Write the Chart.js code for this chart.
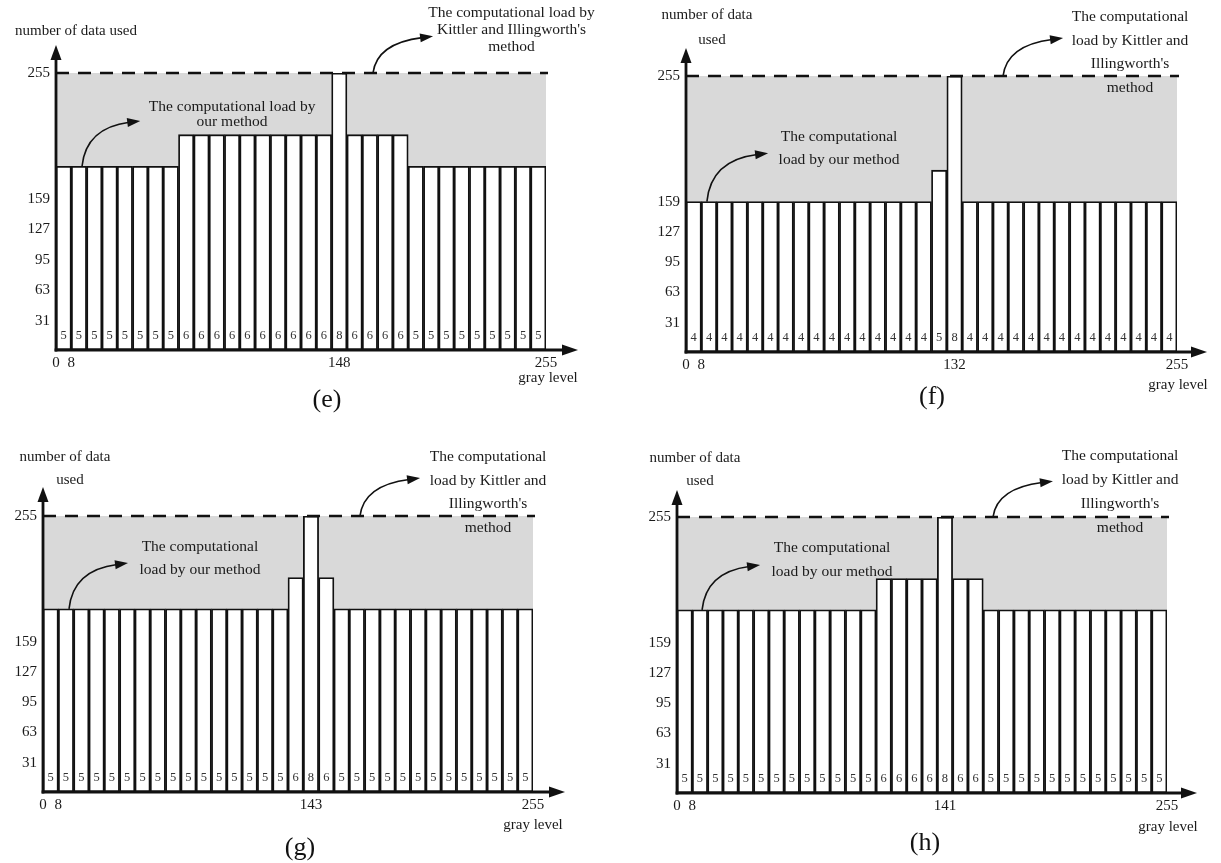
<!DOCTYPE html>
<html><head><meta charset="utf-8">
<script src="https://cdn.jsdelivr.net/npm/chart.js@4.4.1/dist/chart.umd.min.js"></script>
<style>
html,body{margin:0;padding:0;background:#fff;}
#wrap{position:relative;width:1221px;height:863px;overflow:hidden;}
#wrap canvas{position:absolute;left:0;top:0;}
</style></head><body>
<div id="wrap">
<canvas id="ce" width="1221" height="863"></canvas>
<canvas id="cf" width="1221" height="863"></canvas>
<canvas id="cg" width="1221" height="863"></canvas>
<canvas id="ch" width="1221" height="863"></canvas>
</div>
<script>
// ---------------- DATA ----------------
// gray-level bins (start of each 8-level bin), shared by all panels
const binStart = [0,8,16,24,32,40,48,56,64,72,80,88,96,104,112,120,128,136,144,152,160,168,176,184,192,200,208,216,224,232,240,248];
const binWidth = 8;
const grayMax = 256;

const yTickValues = [31, 63, 95, 127, 159, 255];
const kittlerLoad = 255;

// (e)
const countsE = [5,5,5,5,5,5,5,5, 6,6,6,6,6,6,6,6,6,6, 8, 6,6,6,6, 5,5,5,5,5,5,5,5,5];
const loadE   = [184,184,184,184,184,184,184,184, 208,208,208,208,208,208,208,208,208,208, 255, 208,208,208,208, 184,184,184,184,184,184,184,184,184];
const xTickValuesE = [0, 8, 148, 256];
const xTickLabelsE = ['0', '8', '148', '255'];

// (f)
const countsF = [4,4,4,4,4,4,4,4,4,4,4,4,4,4,4,4, 5, 8, 4,4,4,4,4,4,4,4,4,4,4,4,4,4];
const loadF   = [159,159,159,159,159,159,159,159,159,159,159,159,159,159,159,159, 183, 255, 159,159,159,159,159,159,159,159,159,159,159,159,159,159];
const xTickValuesF = [0, 8, 140, 256];
const xTickLabelsF = ['0', '8', '132', '255'];

// (g)
const countsG = [5,5,5,5,5,5,5,5,5,5,5,5,5,5,5,5, 6, 8, 6, 5,5,5,5,5,5,5,5,5,5,5,5,5];
const loadG   = [184,184,184,184,184,184,184,184,184,184,184,184,184,184,184,184, 208, 255, 208, 184,184,184,184,184,184,184,184,184,184,184,184,184];
const xTickValuesG = [0, 8, 140, 256];
const xTickLabelsG = ['0', '8', '143', '255'];

// (h)
const countsH = [5,5,5,5,5,5,5,5,5,5,5,5,5, 6,6,6,6, 8, 6,6, 5,5,5,5,5,5,5,5,5,5,5,5];
const loadH   = [184,184,184,184,184,184,184,184,184,184,184,184,184, 208,208,208,208, 255, 208,208, 184,184,184,184,184,184,184,184,184,184,184,184];
const xTickValuesH = [0, 8, 140, 256];
const xTickLabelsH = ['0', '8', '141', '255'];

// ---------------- PIECEWISE Y SCALE (schematic axis: 0..159 compressed, 159..255 expanded) ----------------
const BREAK_VALUE = 159, BREAK_FRAC = 0.545;
class PiecewiseScale extends Chart.LinearScale {
  getPixelForValue(value) {
    const v = +value;
    let f;
    if (v <= BREAK_VALUE) f = (v - this.min) / (BREAK_VALUE - this.min) * BREAK_FRAC;
    else f = BREAK_FRAC + (v - BREAK_VALUE) / (this.max - BREAK_VALUE) * (1 - BREAK_FRAC);
    return this.getPixelForDecimal(f);
  }
  getValueForPixel(pixel) {
    const f = this.getDecimalForPixel(pixel);
    if (f <= BREAK_FRAC) return this.min + f / BREAK_FRAC * (BREAK_VALUE - this.min);
    return BREAK_VALUE + (f - BREAK_FRAC) / (1 - BREAK_FRAC) * (this.max - BREAK_VALUE);
  }
}
PiecewiseScale.id = 'piecewise';
PiecewiseScale.defaults = Chart.LinearScale.defaults;
Chart.register(PiecewiseScale);

// ---------------- LAYOUT / ANNOTATIONS ----------------
const SERIF = '"Liberation Serif", "Times New Roman", serif';
const PAGE_W = 1221, PAGE_H = 863;

const panels = [
  { id:'ce', letter:'(e)', counts:countsE, load:loadE, xtv:xTickValuesE, xtl:xTickLabelsE,
    L:56, R:546, base:350, top:73, arrowTop:45, arrowRight:578,
    yTitle:[['number of data used', 20, -42]],
    grayLevel:[2, 28], letterPos:[271, 50],
    leftText:{lines:['The computational load by','our method'], x:92, y:229, lh:15},
    leftArrow:{x0:13.6, y0:184, x1:44, y1:218.5},
    rightText:{lines:['The computational load by','Kittler and Illingworth\'s','method'], x:238, y:300.8, lh:17},
    rightArrow:{x0:165.6, y0:255, x1:197, y1:283} },
  { id:'cf', letter:'(f)', counts:countsF, load:loadF, xtv:xTickValuesF, xtl:xTickLabelsF,
    L:686, R:1177, base:352, top:76, arrowTop:48, arrowRight:1207,
    yTitle:[['number of data', 21, -61], ['used', 26, -36]],
    grayLevel:[1, 33], letterPos:[246, 45],
    leftText:{lines:['The computational','load by our method'], x:79.8, y:208.4, lh:23},
    leftArrow:{x0:10.9, y0:159, x1:42.8, y1:196},
    rightText:{lines:['The computational','load by Kittler and','Illingworth\'s','method'], x:231.5, y:300.1, lh:23.7},
    rightArrow:{x0:165.3, y0:255, x1:196.6, y1:284} },
  { id:'cg', letter:'(g)', counts:countsG, load:loadG, xtv:xTickValuesG, xtl:xTickLabelsG,
    L:43, R:533, base:792, top:516, arrowTop:487, arrowRight:565,
    yTitle:[['number of data', 22, -59], ['used', 27, -36]],
    grayLevel:[0, 33], letterPos:[257, 56],
    leftText:{lines:['The computational','load by our method'], x:82, y:231.4, lh:23},
    leftArrow:{x0:13.6, y0:184, x1:44.4, y1:219},
    rightText:{lines:['The computational','load by Kittler and','Illingworth\'s','method'], x:232.5, y:300, lh:23.5},
    rightArrow:{x0:165.6, y0:255, x1:197, y1:284} },
  { id:'ch', letter:'(h)', counts:countsH, load:loadH, xtv:xTickValuesH, xtl:xTickLabelsH,
    L:677, R:1167, base:793, top:517, arrowTop:490, arrowRight:1197,
    yTitle:[['number of data', 18, -59], ['used', 23, -36]],
    grayLevel:[1, 34], letterPos:[248, 50],
    leftText:{lines:['The computational','load by our method'], x:81, y:231.4, lh:24},
    leftArrow:{x0:13.1, y0:184, x1:43.4, y1:218.3},
    rightText:{lines:['The computational','load by Kittler and','Illingworth\'s','method'], x:231.5, y:301.6, lh:24},
    rightArrow:{x0:165.1, y0:255, x1:196.4, y1:282.4} }
];

function arrowHead(ctx, x, y, dx, dy, len, hw) {
  const m = Math.hypot(dx, dy) || 1;
  const ux = dx / m, uy = dy / m;
  ctx.beginPath();
  ctx.moveTo(x, y);
  ctx.lineTo(x - ux*len - uy*hw, y - uy*len + ux*hw);
  ctx.lineTo(x - ux*len + uy*hw, y - uy*len - ux*hw);
  ctx.closePath();
  ctx.fill();
}

function curvedArrow(ctx, xs, ys, a) {
  const sx = xs.getPixelForValue(a.x0), sy = ys.getPixelForValue(a.y0);
  const ex = xs.getPixelForValue(a.x1), ey = ys.getPixelForValue(a.y1);
  const cx = sx + 4, cy = ey + 7;
  const dx = ex - cx, dy = ey - cy;
  const m = Math.hypot(dx, dy);
  const bx = ex - dx/m*11, by = ey - dy/m*11;
  ctx.save();
  ctx.strokeStyle = '#111'; ctx.fillStyle = '#111'; ctx.lineWidth = 1.6;
  ctx.beginPath();
  ctx.moveTo(sx, sy);
  ctx.quadraticCurveTo(cx, cy, bx, by);
  ctx.stroke();
  arrowHead(ctx, ex, ey, dx, dy, 13, 4.5);
  ctx.restore();
}

function textBlock(ctx, xs, ys, t) {
  const x = xs.getPixelForValue(t.x), y = ys.getPixelForValue(t.y);
  ctx.save();
  ctx.fillStyle = '#1a1a1a';
  ctx.font = '15.5px ' + SERIF;
  ctx.textAlign = 'center'; ctx.textBaseline = 'middle';
  t.lines.forEach((ln, i) => ctx.fillText(ln, x, y + i*t.lh));
  ctx.restore();
}

const decoPlugin = {
  id: 'deco',
  beforeDatasetsDraw(chart) {
    const xs = chart.scales.x, ys = chart.scales.y, ctx = chart.ctx;
    const x0 = xs.getPixelForValue(0), x1 = xs.getPixelForValue(grayMax);
    const yTop = ys.getPixelForValue(kittlerLoad), yB = ys.getPixelForValue(0);
    ctx.save();
    ctx.fillStyle = '#d9d9d9';
    ctx.fillRect(x0, yTop, x1 - x0, yB - yTop);
    ctx.restore();
  },
  afterDatasetsDraw(chart) {
    const p = chart.config.options.plugins.deco.panel;
    const xs = chart.scales.x, ys = chart.scales.y, ctx = chart.ctx;
    const L = xs.getPixelForValue(0), R = xs.getPixelForValue(grayMax);
    const B = ys.getPixelForValue(0), T = ys.getPixelForValue(kittlerLoad);
    // bar value labels
    const meta = chart.getDatasetMeta(0);
    ctx.save();
    ctx.fillStyle = '#333';
    ctx.font = '12.5px ' + SERIF;
    ctx.textAlign = 'center'; ctx.textBaseline = 'middle';
    meta.data.forEach((bar, i) => ctx.fillText(String(p.counts[i]), bar.x, B - 14));
    ctx.restore();
    // dashed Kittler line
    ctx.save();
    ctx.strokeStyle = '#111'; ctx.lineWidth = 2.6;
    ctx.setLineDash([13, 9]);
    ctx.beginPath(); ctx.moveTo(L, T); ctx.lineTo(R + 2, T); ctx.stroke();
    ctx.restore();
    // axes with arrows
    ctx.save();
    ctx.strokeStyle = '#111'; ctx.fillStyle = '#111'; ctx.lineWidth = 2.8; ctx.lineCap = 'butt';
    ctx.beginPath(); ctx.moveTo(L, B + 1.4); ctx.lineTo(L, p.arrowTop + 12); ctx.stroke();
    arrowHead(ctx, L, p.arrowTop, 0, -1, 15, 5.5);
    ctx.beginPath(); ctx.moveTo(L - 1.4, B); ctx.lineTo(p.arrowRight - 12, B); ctx.stroke();
    arrowHead(ctx, p.arrowRight, B, 1, 0, 16, 5.5);
    ctx.restore();
    // annotations
    textBlock(ctx, xs, ys, p.leftText);
    textBlock(ctx, xs, ys, p.rightText);
    curvedArrow(ctx, xs, ys, p.leftArrow);
    curvedArrow(ctx, xs, ys, p.rightArrow);
    // axis titles
    ctx.save();
    ctx.fillStyle = '#1a1a1a';
    ctx.font = '15px ' + SERIF;
    ctx.textAlign = 'center'; ctx.textBaseline = 'middle';
    p.yTitle.forEach(t => ctx.fillText(t[0], L + t[1], T + t[2]));
    ctx.fillText('gray level', R + p.grayLevel[0], B + p.grayLevel[1]);
    ctx.font = '26px ' + SERIF;
    ctx.fillStyle = '#111';
    ctx.fillText(p.letter, L + p.letterPos[0], B + p.letterPos[1]);
    ctx.restore();
  }
};

panels.forEach(p => {
  const ctx = document.getElementById(p.id).getContext('2d');
  new Chart(ctx, {
    type: 'bar',
    data: {
      datasets: [{
        data: p.load.map((v, i) => ({ x: binStart[i] + binWidth / 2, y: v })),
        backgroundColor: '#ffffff',
        borderColor: '#111111',
        borderWidth: 1.8,
        borderSkipped: false,
        barPercentage: 1,
        categoryPercentage: 1
      }]
    },
    options: {
      responsive: false,
      animation: false,
      events: [],
      layout: { padding: { left: p.L - 40, top: p.top, right: PAGE_W - p.R, bottom: PAGE_H - p.base - 30 } },
      scales: {
        x: {
          type: 'linear', min: 0, max: grayMax, offset: false,
          grid: { display: false, drawTicks: false }, border: { display: false },
          afterBuildTicks: s => { s.ticks = p.xtv.map(v => ({ value: v })); },
          afterFit: s => { s.height = 30; },
          ticks: { autoSkip: false, maxRotation: 0, minRotation: 0, padding: 4, color: '#1a1a1a',
                   font: { family: SERIF, size: 15 },
                   callback: (v, i) => p.xtl[i] }
        },
        y: {
          type: 'piecewise', min: 0, max: kittlerLoad,
          grid: { display: false, drawTicks: false }, border: { display: false },
          afterBuildTicks: s => { s.ticks = yTickValues.map(v => ({ value: v })); },
          afterFit: s => { s.width = 40; },
          ticks: { autoSkip: false, padding: 6, color: '#1a1a1a',
                   font: { family: SERIF, size: 15 },
                   callback: v => String(v) }
        }
      },
      plugins: {
        legend: { display: false },
        tooltip: { enabled: false },
        deco: { panel: p }
      }
    },
    plugins: [decoPlugin]
  });
});
</script>
</body></html>
